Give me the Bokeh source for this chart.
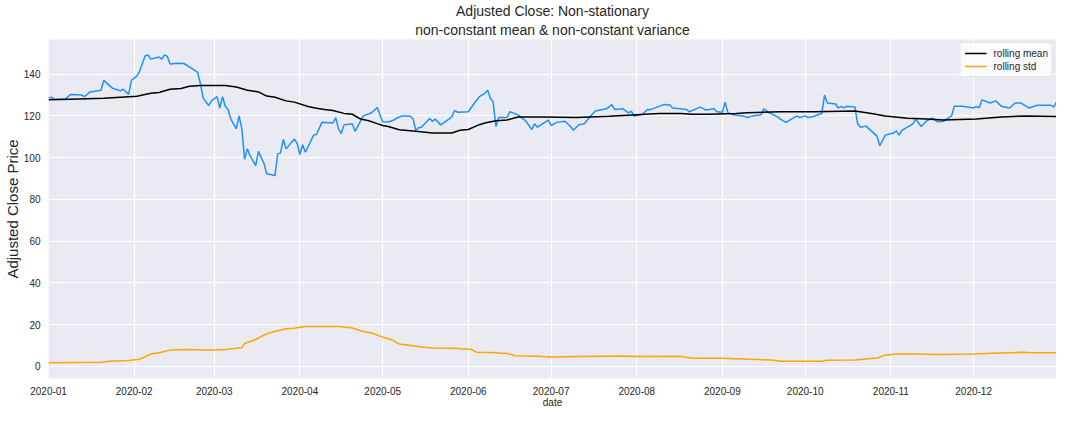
from datetime import datetime
import pandas as pd
from bokeh.plotting import figure
from bokeh.models import (Range1d, FixedTicker, DatetimeTickFormatter, MonthsTicker, Legend,
                          LegendItem, Title)
from bokeh.embed import file_html
from bokeh.resources import INLINE

# ---- data ----
price_dates = [
    "2020-01-01", "2020-01-02", "2020-01-03", "2020-01-07", "2020-01-09", "2020-01-13", "2020-01-14",
    "2020-01-16", "2020-01-20", "2020-01-21", "2020-01-22", "2020-01-24", "2020-01-27", "2020-01-28",
    "2020-01-30", "2020-01-31", "2020-02-02", "2020-02-03", "2020-02-05", "2020-02-06", "2020-02-07",
    "2020-02-10", "2020-02-11", "2020-02-12", "2020-02-13", "2020-02-14", "2020-02-17", "2020-02-19",
    "2020-02-22", "2020-02-24", "2020-02-25", "2020-02-26", "2020-02-28", "2020-02-29", "2020-03-02",
    "2020-03-03", "2020-03-04", "2020-03-05", "2020-03-06", "2020-03-07", "2020-03-09", "2020-03-10",
    "2020-03-11", "2020-03-12", "2020-03-13", "2020-03-14", "2020-03-16", "2020-03-17", "2020-03-19",
    "2020-03-20", "2020-03-23", "2020-03-24", "2020-03-25", "2020-03-26", "2020-03-27", "2020-03-30",
    "2020-03-31", "2020-04-01", "2020-04-02", "2020-04-03", "2020-04-06", "2020-04-07", "2020-04-09",
    "2020-04-13", "2020-04-14", "2020-04-15", "2020-04-16", "2020-04-17", "2020-04-20", "2020-04-21",
    "2020-04-24", "2020-04-27", "2020-04-29", "2020-04-30", "2020-05-01", "2020-05-03", "2020-05-05",
    "2020-05-06", "2020-05-08", "2020-05-11", "2020-05-12", "2020-05-13", "2020-05-14", "2020-05-15",
    "2020-05-18", "2020-05-19", "2020-05-20", "2020-05-22", "2020-05-25", "2020-05-26", "2020-05-27",
    "2020-05-28", "2020-06-01", "2020-06-03", "2020-06-05", "2020-06-07", "2020-06-08", "2020-06-09",
    "2020-06-10", "2020-06-11", "2020-06-12", "2020-06-15", "2020-06-16", "2020-06-18", "2020-06-19",
    "2020-06-21", "2020-06-22", "2020-06-24", "2020-06-25", "2020-06-26", "2020-06-30", "2020-07-01",
    "2020-07-03", "2020-07-06", "2020-07-08", "2020-07-09", "2020-07-11", "2020-07-13", "2020-07-15",
    "2020-07-17", "2020-07-21", "2020-07-23", "2020-07-24", "2020-07-27", "2020-07-29", "2020-07-30",
    "2020-07-31", "2020-08-03", "2020-08-05", "2020-08-06", "2020-08-11", "2020-08-13", "2020-08-14",
    "2020-08-19", "2020-08-20", "2020-08-24", "2020-08-26", "2020-08-29", "2020-08-30", "2020-09-01",
    "2020-09-02", "2020-09-03", "2020-09-05", "2020-09-09", "2020-09-10", "2020-09-12", "2020-09-15",
    "2020-09-16", "2020-09-18", "2020-09-21", "2020-09-22", "2020-09-24", "2020-09-28", "2020-09-29",
    "2020-10-01", "2020-10-02", "2020-10-04", "2020-10-06", "2020-10-07", "2020-10-08", "2020-10-09",
    "2020-10-12", "2020-10-13", "2020-10-14", "2020-10-15", "2020-10-16", "2020-10-19", "2020-10-20",
    "2020-10-21", "2020-10-23", "2020-10-27", "2020-10-28", "2020-10-30", "2020-11-02", "2020-11-03",
    "2020-11-04", "2020-11-05", "2020-11-09", "2020-11-10", "2020-11-12", "2020-11-14", "2020-11-16",
    "2020-11-18", "2020-11-20", "2020-11-23", "2020-11-24", "2020-11-27", "2020-12-01", "2020-12-02",
    "2020-12-03", "2020-12-04", "2020-12-07", "2020-12-09", "2020-12-11", "2020-12-14", "2020-12-16",
    "2020-12-18", "2020-12-21", "2020-12-24", "2020-12-29", "2020-12-30", "2020-12-31",
]
price_values = [
    128.5, 129.0, 128.0, 128.0, 130.3, 130.0, 129.2,
    131.5, 132.3, 137.0, 135.8, 133.4, 132.0, 132.8,
    130.3, 137.0, 139.2, 141.5, 148.8, 149.2, 147.2,
    148.2, 147.2, 149.2, 148.5, 144.9, 145.2, 145.1,
    142.6, 140.8, 135.4, 128.5, 125.0, 127.2, 129.2,
    123.8, 129.2, 124.6, 123.1, 118.5, 113.8, 120.0,
    113.8, 99.2, 104.2, 100.8, 96.2, 103.0, 97.2,
    92.3, 91.5, 101.8, 102.3, 108.8, 104.2, 108.9,
    106.9, 101.5, 106.2, 102.6, 110.8, 111.1, 116.9,
    116.6, 119.2, 113.8, 111.5, 115.7, 116.2, 112.6,
    120.0, 121.5, 124.0, 120.5, 117.2, 117.1, 118.0,
    118.9, 120.0, 119.8, 118.5, 113.1, 114.3, 114.6,
    118.8, 117.4, 118.5, 115.7, 118.5, 119.5, 122.6,
    121.8, 122.0, 125.7, 129.2, 130.8, 132.3, 128.5,
    126.6, 114.9, 119.2, 119.2, 122.0, 121.1, 120.5,
    118.5, 117.2, 113.5, 116.2, 114.6, 118.0, 115.4,
    116.9, 117.4, 114.9, 113.1, 115.8, 116.2, 119.5,
    122.3, 123.4, 125.4, 123.1, 123.4, 121.5, 122.3,
    120.0, 120.8, 123.1, 123.0, 125.5, 125.2, 123.8,
    123.1, 122.0, 124.2, 122.8, 123.4, 122.0, 121.8,
    126.6, 121.5, 120.5, 119.8, 119.2, 120.0, 120.5,
    123.4, 121.5, 119.5, 118.5, 116.9, 120.0, 119.2,
    120.0, 119.2, 119.7, 120.8, 121.1, 130.0, 126.2,
    125.7, 123.8, 124.6, 123.8, 124.6, 124.3, 116.2,
    114.6, 115.1, 110.3, 105.7, 110.8, 111.8, 112.8,
    110.8, 113.1, 116.2, 118.5, 114.9, 117.7, 118.9,
    117.2, 117.4, 120.0, 124.6, 124.6, 123.8, 124.6,
    123.8, 127.7, 126.2, 127.2, 124.6, 123.8, 126.2,
    126.2, 123.8, 125.1, 125.1, 124.2, 126.6,
]

mean_dates = [
    "2020-01-01", "2020-01-09", "2020-01-21", "2020-02-02", "2020-02-07", "2020-02-10", "2020-02-14",
    "2020-02-18", "2020-02-21", "2020-02-25", "2020-03-05", "2020-03-09", "2020-03-13", "2020-03-17",
    "2020-03-20", "2020-03-23", "2020-03-27", "2020-03-30", "2020-04-04", "2020-04-07", "2020-04-10",
    "2020-04-13", "2020-04-17", "2020-04-20", "2020-04-23", "2020-04-26", "2020-04-29", "2020-05-01",
    "2020-05-03", "2020-05-07", "2020-05-13", "2020-05-19", "2020-05-26", "2020-05-29", "2020-06-01",
    "2020-06-05", "2020-06-07", "2020-06-11", "2020-06-15", "2020-06-19", "2020-06-28", "2020-07-10",
    "2020-07-15", "2020-07-22", "2020-08-01", "2020-08-09", "2020-08-17", "2020-08-21", "2020-08-27",
    "2020-09-06", "2020-09-10", "2020-09-22", "2020-10-04", "2020-10-19", "2020-10-25", "2020-10-30",
    "2020-11-07", "2020-11-14", "2020-11-20", "2020-12-02", "2020-12-11", "2020-12-20", "2020-12-31",
]
mean_values = [
    127.7, 128.0, 128.5, 129.4, 130.8, 131.2, 132.8,
    133.1, 134.2, 134.6, 134.6, 133.8, 132.3, 131.5,
    129.5, 128.9, 127.2, 126.6, 124.5, 123.7, 123.1,
    122.6, 121.2, 120.8, 118.5, 117.7, 116.3, 115.4,
    114.9, 113.4, 112.6, 111.8, 111.8, 113.1, 113.5,
    115.8, 116.6, 117.7, 118.0, 119.5, 119.5, 119.2,
    119.5, 119.8, 120.5, 121.1, 121.1, 120.8, 120.8,
    121.1, 121.5, 122.0, 122.0, 122.3, 121.2, 120.0,
    118.9, 118.5, 118.0, 118.5, 119.5, 120.0, 119.7,
]

std_dates = [
    "2020-01-01", "2020-01-20", "2020-01-23", "2020-01-30", "2020-02-03", "2020-02-07", "2020-02-10",
    "2020-02-14", "2020-02-20", "2020-02-27", "2020-03-01", "2020-03-05", "2020-03-11", "2020-03-12",
    "2020-03-16", "2020-03-20", "2020-03-24", "2020-03-27", "2020-03-30", "2020-04-03", "2020-04-15",
    "2020-04-20", "2020-04-24", "2020-04-27", "2020-05-01", "2020-05-04", "2020-05-07", "2020-05-12",
    "2020-05-15", "2020-05-19", "2020-05-28", "2020-05-29", "2020-06-02", "2020-06-04", "2020-06-09",
    "2020-06-15", "2020-06-18", "2020-06-24", "2020-07-01", "2020-07-11", "2020-07-26", "2020-08-01",
    "2020-08-17", "2020-08-21", "2020-09-01", "2020-09-11", "2020-09-19", "2020-09-22", "2020-10-07",
    "2020-10-09", "2020-10-19", "2020-10-27", "2020-10-30", "2020-11-05", "2020-11-18", "2020-12-01",
    "2020-12-10", "2020-12-19", "2020-12-22", "2020-12-31",
]
std_values = [
    1.7, 2.0, 2.5, 2.8, 3.4, 5.9, 6.5,
    7.8, 8.1, 7.9, 7.9, 8.1, 9.0, 11.0,
    12.9, 15.7, 17.1, 18.0, 18.3, 19.1, 19.1,
    18.4, 16.7, 16.0, 14.0, 12.9, 10.7, 9.9,
    9.3, 8.8, 8.7, 8.4, 8.2, 6.8, 6.7,
    6.2, 5.1, 5.0, 4.5, 4.7, 5.0, 4.7,
    4.8, 3.9, 3.9, 3.4, 3.1, 2.5, 2.5,
    2.9, 3.1, 4.0, 5.4, 6.0, 5.7, 5.9,
    6.4, 6.8, 6.5, 6.5,
]

y_ticks = [0, 20, 40, 60, 80, 100, 120, 140]
title_line1 = "Adjusted Close: Non-stationary"
title_line2 = "non-constant mean & non-constant variance"
y_label = "Adjusted Close Price"
x_label = "date"

FONT = "Liberation Sans"
TXT = "#262626"

x_start = datetime(2019, 12, 31, 23, 30)
x_end = datetime(2020, 12, 31)

p = figure(
    width=1056, height=408, x_axis_type="datetime",
    x_range=Range1d(x_start, x_end),
    y_range=Range1d(-5.8, 156.6),
    output_backend="svg", toolbar_location=None, title=None,
    min_border_left=42, min_border_right=0, min_border_top=30, min_border_bottom=30,
)
p.background_fill_color = "#EAEAF2"
p.border_fill_color = "white"
p.outline_line_color = None

# two centred title lines (the one added later sits on top)
p.add_layout(Title(text=title_line2, align="center", text_font=FONT, text_font_size="14px",
                   text_font_style="normal", text_color=TXT, standoff=3, offset=0,
                   text_line_height=1.0), "above")
p.add_layout(Title(text=title_line1, align="center", text_font=FONT, text_font_size="14px",
                   text_font_style="normal", text_color=TXT, standoff=0, offset=0,
                   text_line_height=0.85, vertical_align="bottom"), "above")

for g in (p.xgrid, p.ygrid):
    g.grid_line_color = "white"
    g.grid_line_width = 1

p.xaxis.ticker = MonthsTicker(months=list(range(1, 13)))
fmt = "%Y-%m"
p.xaxis.formatter = DatetimeTickFormatter(months=fmt, days=fmt, years=fmt, hours=fmt)
p.yaxis.ticker = FixedTicker(ticks=y_ticks)

for ax in (p.xaxis, p.yaxis):
    ax.axis_line_color = None
    ax.major_tick_line_color = None
    ax.minor_tick_line_color = None
    ax.major_tick_out = 0
    ax.major_tick_in = 0
    ax.minor_tick_out = 0
    ax.minor_tick_in = 0
    ax.major_label_text_font = FONT
    ax.major_label_text_font_size = "10px"
    ax.major_label_text_color = TXT
    ax.axis_label_text_font = FONT
    ax.axis_label_text_font_style = "normal"
    ax.axis_label_text_color = TXT

p.xaxis.major_label_standoff = 8
p.yaxis.axis_label = y_label
p.yaxis.axis_label_text_font_size = "15px"
p.yaxis.major_label_standoff = 8
p.yaxis.axis_label_standoff = 0

# x-axis title as a centred caption under the tick labels
p.add_layout(Title(text=x_label, align="center", text_font=FONT, text_font_size="10px",
                   text_font_style="normal", text_color=TXT, standoff=-6, offset=0,
                   text_line_height=1.0, vertical_align="bottom"), "below")

px = pd.to_datetime(price_dates)
mx = pd.to_datetime(mean_dates)
sx = pd.to_datetime(std_dates)

p.line(px, price_values, line_color="#1E90FF", line_width=1.5)
r_mean = p.line(mx, mean_values, line_color="black", line_width=1.5)
r_std = p.line(sx, std_values, line_color="#FFA500", line_width=1.5)

legend = Legend(items=[LegendItem(label="rolling mean", renderers=[r_mean]),
                       LegendItem(label="rolling std", renderers=[r_std])],
                location="top_right")
legend.margin = 3
legend.padding = 4
legend.spacing = 1
legend.glyph_width = 22
legend.glyph_height = 12
legend.label_height = 12
legend.label_standoff = 7
legend.label_text_font = FONT
legend.label_text_font_size = "10px"
legend.label_text_color = TXT
legend.background_fill_color = "white"
legend.background_fill_alpha = 0.8
legend.border_line_color = "#CCCCCC"
legend.border_line_width = 1
p.add_layout(legend, "center")

open("out.html", "w").write(file_html(p, INLINE))
